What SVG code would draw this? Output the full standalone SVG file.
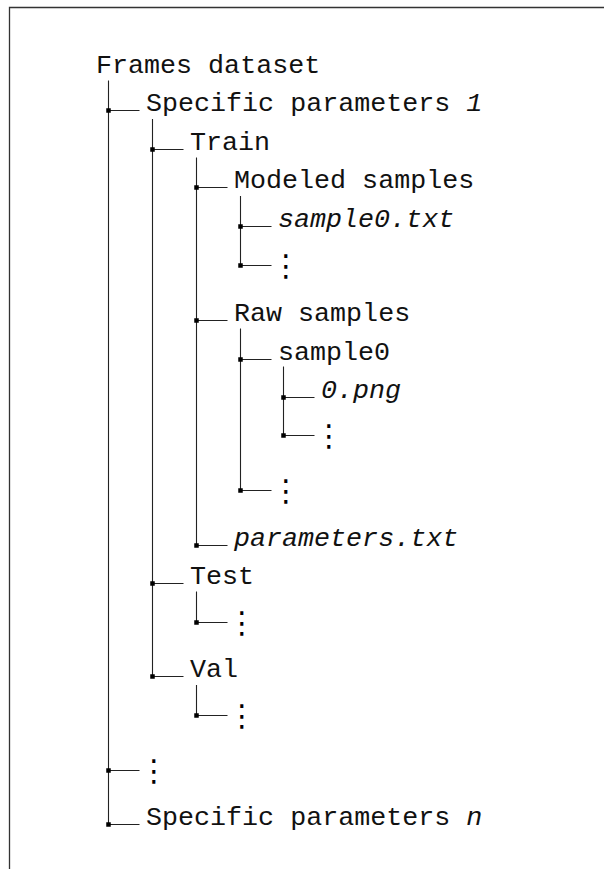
<svg xmlns="http://www.w3.org/2000/svg" xmlns:xlink="http://www.w3.org/1999/xlink" width="604" height="869" viewBox="0 0 604 869">
  <style>
    .lbl { font-family: "Liberation Mono", "DejaVu Sans Mono", monospace; font-size: 26.7px; fill: #111; }
    .it { font-style: italic; }
    .dots { font-family: "DejaVu Sans", sans-serif; font-size: 30px; fill: #000; text-anchor: middle; }
    .ln { stroke: #222; stroke-width: 1.1; fill: none; }
    .frame { stroke: #333; stroke-width: 1.3; fill: none; }
  </style>
  <defs>
    <rect id="knot" x="-2.25" y="-2.25" width="4.5" height="4.5" fill="#000"/>
  </defs>
  <rect width="604" height="869" fill="#fff"/>
  <path class="frame" d="M9.5 869 V7.5 H604"/>

  <!-- tree branches: one vertical trunk per folder, one elbow per entry -->
  <g id="connectors">
    <path class="ln" d="M108.5 80.5 V824.5"/>
    <path class="ln" d="M108.5 110.5 H139.5 M108.5 770.5 H139.5 M108.5 824.5 H139.5"/>
    <path class="ln" d="M152.5 119 V676.5"/>
    <path class="ln" d="M152.5 149.5 H183.5 M152.5 583.5 H183.5 M152.5 676.5 H183.5"/>
    <path class="ln" d="M196.5 157.5 V545.5"/>
    <path class="ln" d="M196.5 187.5 H227.5 M196.5 320.5 H227.5 M196.5 545.5 H227.5"/>
    <path class="ln" d="M240.5 196 V265.5"/>
    <path class="ln" d="M240.5 226.5 H271.5 M240.5 265.5 H271.5"/>
    <path class="ln" d="M240.5 328.5 V490.5"/>
    <path class="ln" d="M240.5 359.5 H271.5 M240.5 490.5 H271.5"/>
    <path class="ln" d="M283.5 366.5 V435.5"/>
    <path class="ln" d="M283.5 397.5 H314.5 M283.5 435.5 H314.5"/>
    <path class="ln" d="M196.5 591.5 V622.5 H227.5"/>
    <path class="ln" d="M196.5 685 V715.5 H227.5"/>
    <use xlink:href="#knot" x="108.5" y="110.5"/>
    <use xlink:href="#knot" x="108.5" y="770.5"/>
    <use xlink:href="#knot" x="108.5" y="824.5"/>
    <use xlink:href="#knot" x="152.5" y="149.5"/>
    <use xlink:href="#knot" x="152.5" y="583.5"/>
    <use xlink:href="#knot" x="152.5" y="676.5"/>
    <use xlink:href="#knot" x="196.5" y="187.5"/>
    <use xlink:href="#knot" x="196.5" y="320.5"/>
    <use xlink:href="#knot" x="196.5" y="545.5"/>
    <use xlink:href="#knot" x="240.5" y="226.5"/>
    <use xlink:href="#knot" x="240.5" y="265.5"/>
    <use xlink:href="#knot" x="240.5" y="359.5"/>
    <use xlink:href="#knot" x="240.5" y="490.5"/>
    <use xlink:href="#knot" x="283.5" y="397.5"/>
    <use xlink:href="#knot" x="283.5" y="435.5"/>
    <use xlink:href="#knot" x="196.5" y="622.5"/>
    <use xlink:href="#knot" x="196.5" y="715.5"/>
  </g>

  <g id="root"><text class="lbl" x="96" y="73">Frames dataset</text></g>
  <g id="params-1"><text class="lbl" x="146" y="111">Specific parameters <tspan class="it">1</tspan></text></g>
  <g id="train"><text class="lbl" x="190" y="150">Train</text></g>
  <g id="modeled"><text class="lbl" x="234" y="188">Modeled samples</text></g>
  <g id="modeled-sample0"><text class="lbl it" x="278" y="227">sample0.txt</text></g>
  <g id="modeled-more"><text class="dots" x="286" y="276">⋮</text></g>
  <g id="raw"><text class="lbl" x="234" y="321">Raw samples</text></g>
  <g id="raw-sample0"><text class="lbl" x="278" y="360">sample0</text></g>
  <g id="frame-0"><text class="lbl it" x="321" y="398">0.png</text></g>
  <g id="frame-more"><text class="dots" x="329" y="446">⋮</text></g>
  <g id="raw-more"><text class="dots" x="286" y="501">⋮</text></g>
  <g id="parameters"><text class="lbl it" x="234" y="546">parameters.txt</text></g>
  <g id="test"><text class="lbl" x="190" y="584">Test</text></g>
  <g id="test-more"><text class="dots" x="242" y="633">⋮</text></g>
  <g id="val"><text class="lbl" x="190" y="677">Val</text></g>
  <g id="val-more"><text class="dots" x="242" y="726">⋮</text></g>
  <g id="params-more"><text class="dots" x="154" y="781">⋮</text></g>
  <g id="params-n"><text class="lbl" x="146" y="825">Specific parameters <tspan class="it">n</tspan></text></g>
</svg>
